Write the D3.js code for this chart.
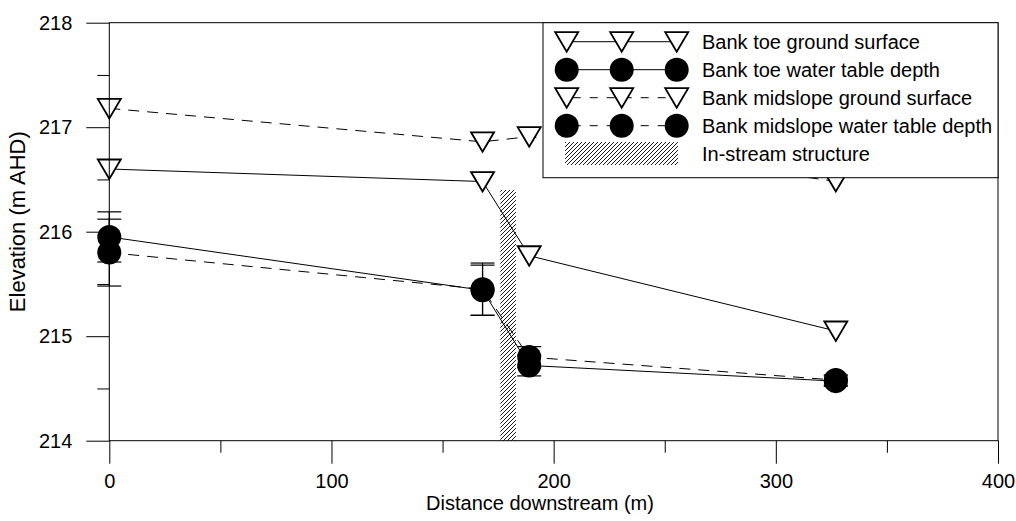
<!DOCTYPE html>
<html>
<head>
<meta charset="UTF-8">
<title>Elevation downstream</title>
<script src="https://cdn.jsdelivr.net/npm/d3@7/dist/d3.min.js"></script>
<style>
    body { margin: 0; background: #fff; }
    text { font-family: "Liberation Sans", Arial, sans-serif; font-size: 20px; fill: #000; }
    .domain { display: none; }
    .tick line { stroke: #000; stroke-width: 1; }
</style>
</head>
<body>
<script>

    // distances downstream (m)
    var distance = [0, 168, 189, 327];

    // elevations (m AHD)
    var toeGround = [216.60, 216.48, 215.77, 215.05];
    var toeWater = [215.95, 215.44, 214.72, 214.57];
    var midGround = [217.18, 216.86, 216.91, 216.48];
    var midWater = [215.80, 215.45, 214.80, 214.58];

    // error bars (+/-) on water table
    var toeWaterErr = [0.24, 0.24, 0.10, 0.05];
    var midWaterErr = [0.32, 0.25, 0.10, 0.05];

    // in-stream structure extent
    var structureX = [176, 183];
    var structureTop = 216.4;

    var xTicks = [0, 100, 200, 300, 400];
    var xMinor = [50, 150, 250, 350];
    var yTicks = [214, 215, 216, 217, 218];
    var yMinor = [214.5, 215.5, 216.5, 217.5];

    var seriesNames = ["Bank toe ground surface", "Bank toe water table depth",
        "Bank midslope ground surface", "Bank midslope water table depth", "In-stream structure"];

    var width = 1016, height = 521;
    var pLeft = 109.3, pRight = 998, pTop = 22.7, pBottom = 440.7;

    var svg = d3.select("body").append("svg")
            .attr("width", width)
            .attr("height", height);

    var defs = svg.append("defs");
    var pat = defs.append("pattern")
            .attr("id", "hatch")
            .attr("patternUnits", "userSpaceOnUse")
            .attr("width", 4).attr("height", 4);
    pat.append("path")
            .attr("d", "M-1,1 l2,-2 M0,4 l4,-4 M3,5 l2,-2")
            .attr("stroke", "#000").attr("stroke-width", 0.9);

    var x = d3.scaleLinear().domain([0, 400]).range([pLeft, pRight]);
    var y = d3.scaleLinear().domain([214, 218]).range([pBottom, pTop]);

    // axes, major then minor ticks
    svg.append("g")
            .attr("transform", "translate(0," + pBottom + ")")
            .call(d3.axisBottom(x).tickValues(xTicks).tickSize(23).tickPadding(10).tickFormat(d3.format("d")));
    svg.append("g")
            .attr("transform", "translate(0," + pBottom + ")")
            .call(d3.axisBottom(x).tickValues(xMinor).tickSize(12).tickFormat(""));
    svg.append("g")
            .attr("transform", "translate(" + pLeft + ",0)")
            .call(d3.axisLeft(y).tickValues(yTicks).tickSize(23).tickPadding(14).tickFormat(d3.format("d")));
    svg.append("g")
            .attr("transform", "translate(" + pLeft + ",0)")
            .call(d3.axisLeft(y).tickValues(yMinor).tickSize(12).tickFormat(""));

    // in-stream structure
    svg.append("rect")
            .attr("x", x(structureX[0]))
            .attr("y", y(structureTop))
            .attr("width", x(structureX[1]) - x(structureX[0]))
            .attr("height", y(214) - y(structureTop))
            .attr("fill", "url(#hatch)");

    var line = d3.line()
            .x(function(d) { return x(d[0]); })
            .y(function(d) { return y(d[1]); });

    var series = [
        {vals: toeGround, dash: null, mark: "tri"},
        {vals: toeWater, dash: null, mark: "circ", err: toeWaterErr},
        {vals: midGround, dash: "11,8", mark: "tri"},
        {vals: midWater, dash: "11,8", mark: "circ", err: midWaterErr}
    ];

    // lines
    series.forEach(function(s) {
        svg.append("path")
                .attr("d", line(d3.zip(distance, s.vals)))
                .attr("fill", "none")
                .attr("stroke", "#000")
                .attr("stroke-width", 1)
                .attr("stroke-dasharray", s.dash);
    });

    // error bars
    series.forEach(function(s) {
        if (!s.err) return;
        var g = svg.append("g").attr("stroke", "#000").attr("stroke-width", 1.2);
        distance.forEach(function(d, i) {
            var cx = x(d), y1 = y(s.vals[i] + s.err[i]), y2 = y(s.vals[i] - s.err[i]);
            g.append("line").attr("x1", cx).attr("x2", cx).attr("y1", y1).attr("y2", y2);
            g.append("line").attr("x1", cx - 12).attr("x2", cx + 12).attr("y1", y1).attr("y2", y1);
            g.append("line").attr("x1", cx - 12).attr("x2", cx + 12).attr("y1", y2).attr("y2", y2);
        });
    });

    function marker(g, type, cx, cy) {
        if (type === "tri") {
            g.append("path")
                    .attr("d", "M" + (cx - 11.5) + "," + (cy - 9.5) + "L" + (cx + 11.5) + "," + (cy - 9.5) + "L" + cx + "," + (cy + 10) + "Z")
                    .attr("fill", "#fff").attr("stroke", "#000").attr("stroke-width", 1.8);
        } else {
            g.append("circle")
                    .attr("cx", cx).attr("cy", cy).attr("r", 12)
                    .attr("fill", "#000");
        }
    }

    // markers
    var mg = svg.append("g");
    series.forEach(function(s) {
        distance.forEach(function(d, i) { marker(mg, s.mark, x(d), y(s.vals[i])); });
    });

    // frame
    svg.append("rect")
            .attr("x", pLeft).attr("y", pTop)
            .attr("width", pRight - pLeft).attr("height", pBottom - pTop)
            .attr("fill", "none").attr("stroke", "#000").attr("stroke-width", 1);

    // legend
    var lx = 543, ly = pTop, lh = 155;
    var leg = svg.append("g");
    leg.append("rect")
            .attr("x", lx).attr("y", ly).attr("width", pRight - lx).attr("height", lh)
            .attr("fill", "#fff").attr("stroke", "#000").attr("stroke-width", 1);
    var symX = [566.7, 621.7, 676.7];
    series.forEach(function(s, i) {
        var ry = 41.7 + i * 28;
        leg.append("line")
                .attr("x1", symX[0]).attr("x2", symX[2]).attr("y1", ry).attr("y2", ry)
                .attr("stroke", "#000").attr("stroke-width", 1)
                .attr("stroke-dasharray", s.dash ? "8,9" : null)
                .attr("stroke-dashoffset", s.dash ? -6 : null);
        symX.forEach(function(sx) { marker(leg, s.mark, sx, ry); });
    });
    leg.append("rect")
            .attr("x", 565).attr("y", 142).attr("width", 113).attr("height", 23)
            .attr("fill", "url(#hatch)");
    seriesNames.forEach(function(n, i) {
        leg.append("text")
                .attr("x", 702).attr("y", 41.7 + i * 28).attr("dy", "0.35em")
                .text(n);
    });

    // axis titles
    svg.append("text")
            .attr("x", 540).attr("y", 510)
            .attr("text-anchor", "middle")
            .text("Distance downstream (m)");
    svg.append("text")
            .attr("transform", "translate(25," + ((pTop + pBottom) / 2 - 10) + ") rotate(-90)")
            .attr("text-anchor", "middle")
            .style("font-size", "22px")
            .text("Elevation (m AHD)");
</script>
</body>
</html>
